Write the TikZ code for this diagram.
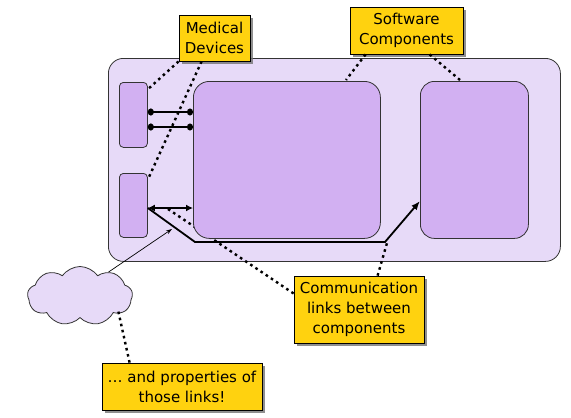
\documentclass[tikz,border=0pt]{standalone}
\usepackage{fontspec}
\setmainfont{DejaVu Sans}
\usetikzlibrary{shapes.symbols,shadows,arrows.meta,calc}
\definecolor{outerfill}{RGB}{231,218,248}
\definecolor{innerfill}{RGB}{210,176,242}
\definecolor{gold}{RGB}{255,210,15}
\begin{document}
\begin{tikzpicture}[x=1pt,y=-1pt,
  box/.style={draw=black!80,line width=0.8pt,anchor=north west,inner sep=0pt},
  callout/.style={draw=black,line width=0.8pt,fill=gold,align=center,inner sep=0pt,
    font=\fontsize{15}{20}\selectfont,
    drop shadow={shadow xshift=2.5pt,shadow yshift=-2.5pt,fill=black!55,opacity=0.8}},
  dots/.style={line width=2.4pt,dash pattern=on 2.6pt off 3.6pt},
  link/.style={line width=1.8pt}]
\useasboundingbox (0,0) rectangle (571,418);
% outer box
\node[box,fill=outerfill,rounded corners=15pt,minimum width=452pt,minimum height=203pt] (outer) at (108,58) {};
% device boxes
\node[box,fill=innerfill,rounded corners=4pt,minimum width=28pt,minimum height=65pt] (dev1) at (119,82) {};
\node[box,fill=innerfill,rounded corners=4pt,minimum width=28pt,minimum height=64pt] (dev2) at (119,173) {};
\coordinate (ya) at (0,112);
\coordinate (yb) at (0,127);
\coordinate (yc) at (0,208);
\coordinate (b1) at (195,242);
\coordinate (b2) at (385,242);
\coordinate (yd) at (0,201);
\path (193,81) coordinate (c1nw) (420,81) coordinate (c2nw);
% links
\draw[link,{Circle[length=6pt,width=7pt]}-{Circle[length=6pt,width=7pt]}] (dev1.east |- ya) -- (c1nw |- ya);
\draw[link,{Circle[length=6pt,width=7pt]}-{Circle[length=6pt,width=7pt]}] (dev1.east |- yb) -- (c1nw |- yb);
\draw[link,{Latex[length=7pt,width=7pt]}-{Latex[length=7pt,width=7pt]}] (dev2.east |- yc) -- (c1nw |- yc);
\draw[link,-{Latex[length=9pt,width=7pt]}] (dev2.east |- yc) -- (b1) -- (b2) -- (c2nw |- yd);
% cloud
\node[cloud,draw=black!80,line width=0.8pt,fill=outerfill,cloud puffs=9,cloud puff arc=110,aspect=1.8,minimum width=105pt,minimum height=59pt,inner sep=0pt] (cloud) at (80,296) {};
\coordinate (tip) at (172,229);
\draw[line width=0.7pt,-{Stealth[length=6pt,width=4pt]}] (cloud.40) -- (tip);
% callouts
\node[callout,minimum width=71pt,minimum height=46pt] (med) at (214.5,38) {Medical\\Devices};
\node[callout,minimum width=113pt,minimum height=47pt] (sw) at (406.5,30.5) {Software\\Components};
\node[callout,minimum width=130pt,minimum height=67pt] (comm) at (359,309.5) {Communication\\links between\\components};
\node[callout,minimum width=160pt,minimum height=47pt] (prop) at (182,386.5) {\dots{} and properties of\\those links!};
% dotted lines
\coordinate (e1) at (147,90);
\coordinate (e2) at (149,177);
\coordinate (e3) at (346,80);
\coordinate (e4) at (460,80);
\coordinate (e5) at (168,209);
\coordinate (e6) at (387,243);
\coordinate (e7) at (118,310);
\draw[dots] (med.south west) -- (e1);
\draw[dots] ([xshift=23pt]med.south west) -- (e2);
\draw[dots] ([xshift=16pt]sw.south west) -- (e3);
\draw[dots] ([xshift=80pt]sw.south west) -- (e4);
\draw[dots] ([yshift=16pt]comm.west) -- (e5);
\draw[dots] ([xshift=84pt]comm.north west) -- (e6);
\draw[dots] ([xshift=28pt]prop.north west) -- (e7);
% component boxes
\node[box,fill=innerfill,rounded corners=16pt,minimum width=187pt,minimum height=157pt] (comp1) at (c1nw) {};
\node[box,fill=innerfill,rounded corners=14pt,minimum width=108pt,minimum height=157pt] (comp2) at (c2nw) {};
\end{tikzpicture}
\end{document}
